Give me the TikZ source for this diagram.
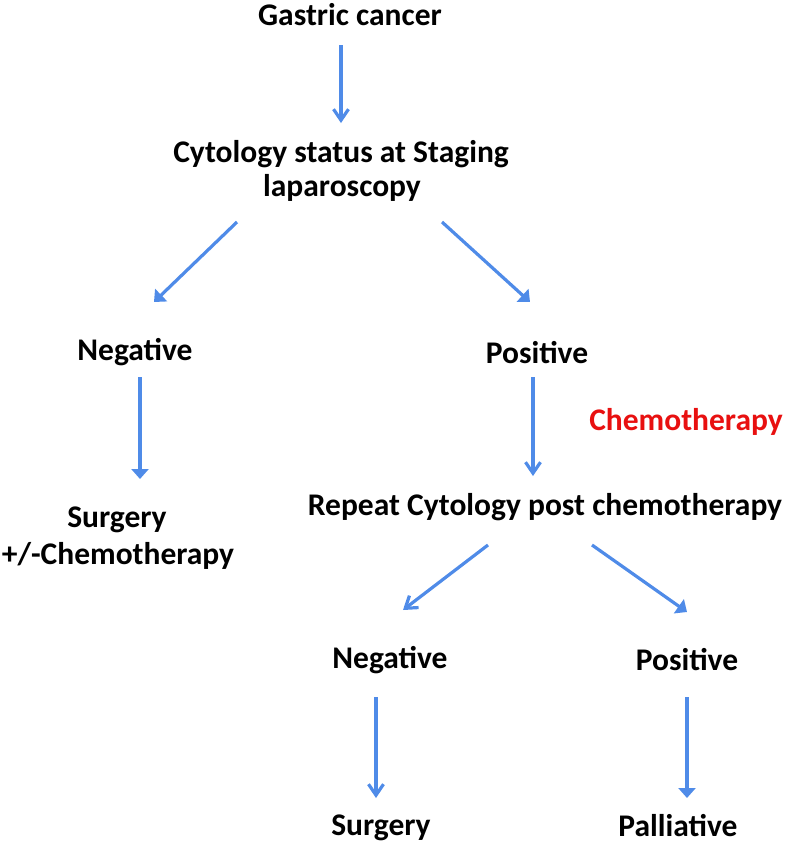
\documentclass[tikz,border=0pt]{standalone}
\usepackage{fontspec}
\setmainfont{Carlito}
\usetikzlibrary{arrows.meta}
\definecolor{arrblue}{RGB}{79,139,232}
\definecolor{chemred}{RGB}{232,16,16}
\tikzset{
  lbl/.style={anchor=base, inner sep=0pt, font=\fontsize{31.5}{38}\selectfont\bfseries},
  arrV/.style={draw=arrblue, line width=3.2pt, -{Straight Barb[length=11pt,width=15pt]}},
  arrT/.style={draw=arrblue, line width=3.2pt, -{Triangle[length=10pt,width=17pt]}},
}
\begin{document}
\begin{tikzpicture}[x=1pt,y=-1pt]
\useasboundingbox (0,0) rectangle (786,847);
% texts
\node[lbl] (gc) at (350,25) {Gastric cancer};
\node[lbl] (cy1) at (341,162) {Cytology status at Staging};
\node[lbl] (cy2) at (342,196) {laparoscopy};
\node[lbl] (neg1) at (135,360) {Negative};
\node[lbl] (pos1) at (537,363) {Positive};
\node[lbl, text=chemred] (chemo) at (686,430) {Chemotherapy};
\node[lbl] (sg1) at (117,527) {Surgery};
\node[lbl] (sg1b) at (118,564) {+/-Chemotherapy};
\node[lbl] (rep) at (545,515) {Repeat Cytology post chemotherapy};
\node[lbl] (neg2) at (390,668) {Negative};
\node[lbl] (pos2) at (687,670) {Positive};
\node[lbl] (sg2) at (381,835) {Surgery};
\node[lbl] (pal) at (678,836) {Palliative};
% arrow end points
\coordinate (a1s) at (341,45);  \coordinate (a1e) at (341,123);
\coordinate (a2s) at (237,222); \coordinate (a2e) at (154,302);
\coordinate (a3s) at (442,222); \coordinate (a3e) at (530,302);
\coordinate (a4s) at (140,377); \coordinate (a4e) at (140,479);
\coordinate (a5s) at (533,377); \coordinate (a5e) at (533,476);
\coordinate (a6s) at (488,545); \coordinate (a6e) at (403,610);
\coordinate (a7s) at (592,545); \coordinate (a7e) at (687,612);
\coordinate (a8s) at (376,697); \coordinate (a8e) at (376,798);
\coordinate (a9s) at (687,697); \coordinate (a9e) at (687,798);
% connectors
\draw[arrV] (a1s) -- (a1e);
\draw[arrT] (a2s) -- (a2e);
\draw[arrT] (a3s) -- (a3e);
\draw[arrT] (a4s) -- (a4e);
\draw[arrV] (a5s) -- (a5e);
\draw[arrV] (a6s) -- (a6e);
\draw[arrT] (a7s) -- (a7e);
\draw[arrV] (a8s) -- (a8e);
\draw[arrT] (a9s) -- (a9e);
\end{tikzpicture}
\end{document}
